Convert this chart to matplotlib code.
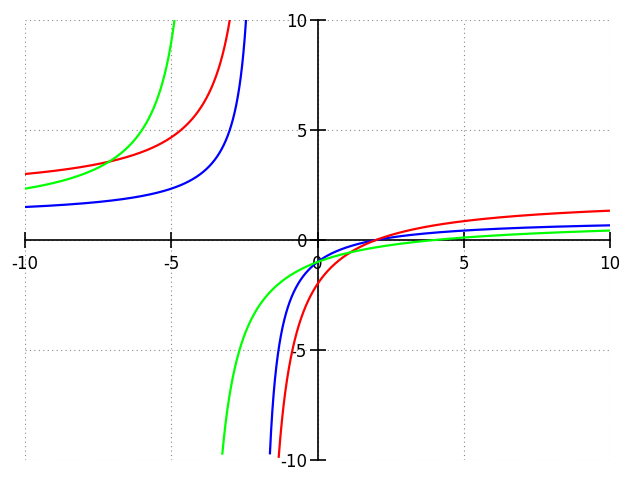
import numpy as np
import matplotlib
matplotlib.use("Agg")
import matplotlib.pyplot as plt

# Curves of the form y = a + k / (x - p)
curve_names = ["blue", "red", "green"]
curve_colors = ["#0000ff", "#ff0000", "#00ff00"]
asymptote_a = [1.0, 2.0, 1.0]
coef_k = [-4.0, -8.0, -8.0]
pole_p = [-2.0, -2.0, -4.0]
lower_cut = [-9.72, -9.86, -9.72]

ticks = [-10, -5, 0, 5, 10]
tick_labels = ["-10", "-5", "0", "5", "10"]

fig = plt.figure(figsize=(6.4, 4.8), dpi=100)
ax = fig.add_axes([25/640, 20/480, 585/640, 440/480])

x = np.linspace(-10, 10, 20001)
for c, a, k, p, lc in zip(curve_colors, asymptote_a, coef_k, pole_p, lower_cut):
    with np.errstate(divide="ignore"):
        y = a + k / (x - p)
    y = np.where((y < lc) | (y > 12), np.nan, y)
    ax.plot(x, y, color=c, lw=1.6, zorder=3)

ax.set_xlim(-10, 10)
ax.set_ylim(-10, 10)
ax.spines["left"].set_position(("data", 0))
ax.spines["bottom"].set_position(("data", 0))
ax.spines["right"].set_visible(False)
ax.spines["top"].set_visible(False)
for s in ("left", "bottom"):
    ax.spines[s].set_linewidth(1.2)
ax.set_xticks(ticks)
ax.set_xticklabels(tick_labels)
ax.set_yticks(ticks)
ax.set_yticklabels(tick_labels)
ax.tick_params(direction="inout", length=11, width=1.2, labelsize=12)
ax.tick_params(axis="x", pad=5)
ax.tick_params(axis="y", pad=2)
ax.grid(True, color="#888888", linestyle=(0, (1, 3)), linewidth=0.8)
ax.set_axisbelow(True)

fig.savefig("out.png", dpi=100)
